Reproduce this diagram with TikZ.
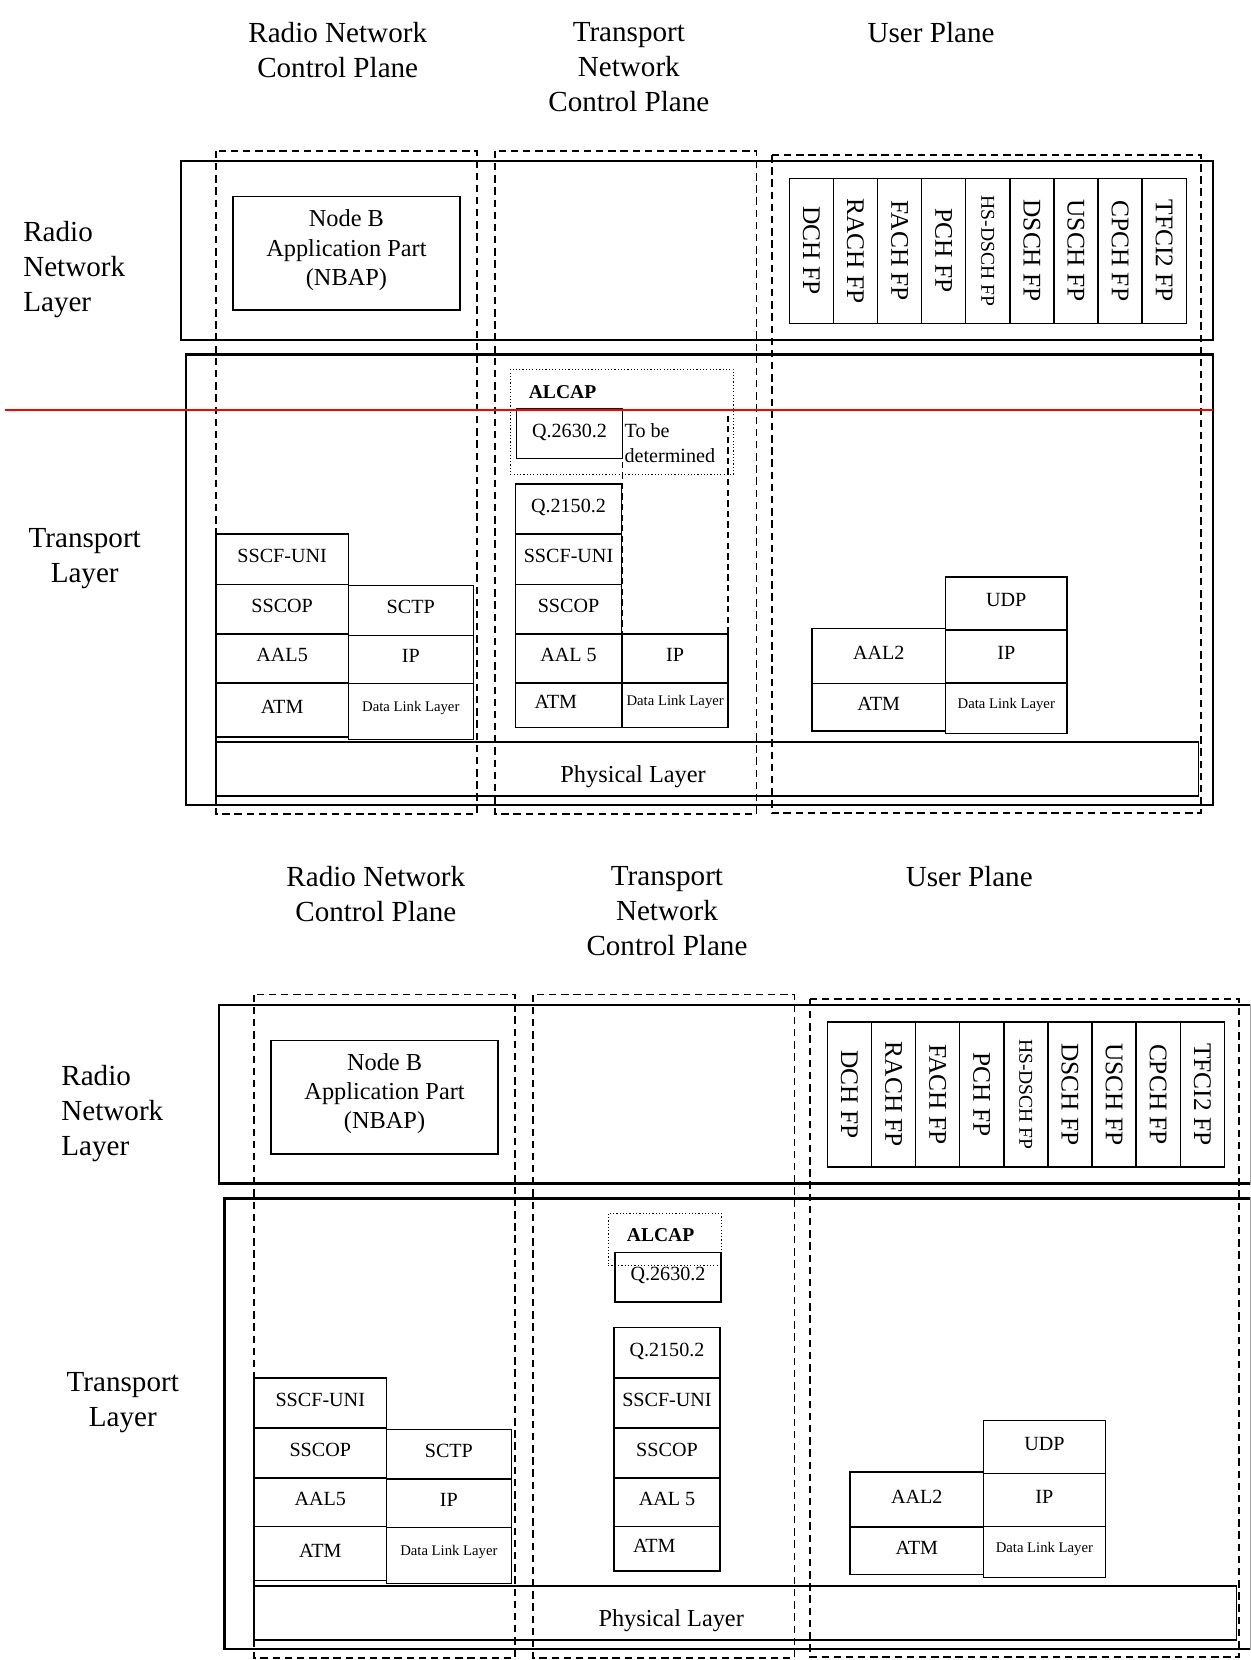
\documentclass[tikz,border=0pt]{standalone}
\usepackage{fontspec}
\setmainfont{Liberation Serif}
\usetikzlibrary{positioning}

\begin{document}
\begin{tikzpicture}[x=1pt, y=-1pt,
 every node/.style={inner sep=0pt, outer sep=0pt},
 heading/.style={align=center, font=\fontsize{27.5}{33}\selectfont},
 side/.style={font=\fontsize{27.5}{33}\selectfont},
 layerframe/.style={draw, line width=2.2pt},
 planeframe/.style={draw, line width=1.4pt, dash pattern=on 7pt off 4.5pt},
 blk/.style={draw, line width=1.3pt, text depth=6pt, font=\fontsize{19}{23}\selectfont},
 smallblk/.style={blk, text depth=9pt, font=\fontsize{13.9}{16}\selectfont},
 fpblk/.style={draw, line width=1.3pt, rotate=-90, minimum width=137, minimum height=41.67},
 alcapframe/.style={draw, line width=1.1pt, dotted},
 tbdframe/.style={draw, line width=1.4pt, dash pattern=on 6pt off 4pt},
 boldlbl/.style={font=\bfseries\fontsize{18.5}{22}\selectfont}]
 \useasboundingbox (0,0) rectangle (1181,1568);
 \fill[white] (0,0) rectangle (1181,1568);
 \clip (0,0) rectangle (1181,1568);

 % the same stack twice, the lower copy shifted
 \foreach \dx/\dy/\tg/\cx in {0/0/a/537, 36/797/b/594} {
 \begin{scope}[shift={(\dx,\dy)}]
  \node[heading] (rncp\tg) at (319,47.5) {Radio Network\\Control Plane};
  \node[heading] (tncp\tg) at (594,63.5) {Transport\\Network\\Control Plane};
  \node[heading] (up\tg) at (879.5,31) {User Plane};
  \node[side, align=left, anchor=west] (rnl\tg) at (22,255) {Radio\\Network\\Layer};
  \node[side, align=center] (tl\tg) at (80,528) {Transport\\Layer};

  \draw[layerframe] (171,152) rectangle (1146,321);
  \draw[layerframe] (176,335) rectangle (1146,760.5);

  % NBAP and frame protocols
  \node[blk, minimum width=214.5, minimum height=107, align=center, text depth=11pt,
   font=\fontsize{23}{27.5}\selectfont] (nbap\tg) at (327.25,239.4)
   {Node B\\Application Part\\(NBAP)};
  \foreach \fp/\fs [count=\i] in {DCH FP/24, RACH FP/24, FACH FP/24, PCH FP/24,
   HS-DSCH FP/18.5, DSCH FP/24, USCH FP/24, CPCH FP/24, TFCI2 FP/24}
   \node[fpblk, font=\fontsize{\fs}{\fs}\selectfont] (fp\i\tg)
    at ({745.5+41.67*(\i-0.5)},236.85) {\fp};

  % radio network control plane
  \node[blk, minimum width=125, minimum height=51, anchor=south west] (atm1\tg) at (204,696) {ATM};
  \node[blk, minimum width=125, minimum height=46, above=0pt of atm1\tg] (aal5\tg) {AAL5};
  \node[blk, minimum width=125, minimum height=47, above=0pt of aal5\tg] (sscop1\tg) {SSCOP};
  \node[blk, minimum width=125, minimum height=47.5, above=0pt of sscop1\tg] (sscf1\tg) {SSCF-UNI};
  \node[smallblk, minimum width=118, minimum height=53, anchor=south west] (dll1\tg) at (329,698.6) {Data Link Layer};
  \node[blk, minimum width=118, minimum height=45.6, above=0pt of dll1\tg] (ip1\tg) {IP};
  \node[blk, minimum width=118, minimum height=47, above=0pt of ip1\tg] (sctp\tg) {SCTP};

  % transport network control plane
  \node[blk, minimum width=100, minimum height=42, anchor=south] (atm2\tg) at (\cx,687) {\hspace*{-24pt}ATM};
  \node[blk, minimum width=100, minimum height=46, above=0pt of atm2\tg] (aal52\tg) {AAL 5};
  \node[blk, minimum width=100, minimum height=47, above=0pt of aal52\tg] (sscop2\tg) {SSCOP};
  \node[blk, minimum width=100, minimum height=47.5, above=0pt of sscop2\tg] (sscf2\tg) {SSCF-UNI};
  \node[blk, minimum width=100, minimum height=47.5, above=0pt of sscf2\tg] (q2150\tg) {Q.2150.2};
  \node[blk, minimum width=100, minimum height=47, anchor=north] (q2630\tg) at (\cx+1,386) {Q.2630.2};

  % user plane
  \node[blk, minimum width=126, minimum height=45, anchor=south west] (atm3\tg) at (767,690.5) {ATM};
  \node[blk, minimum width=126, minimum height=52, above=0pt of atm3\tg] (aal2\tg) {AAL2};
  \node[smallblk, minimum width=115, minimum height=48, anchor=south west] (dll3\tg) at (893,693) {Data Link Layer};
  \node[blk, minimum width=115, minimum height=50, above=0pt of dll3\tg] (ip3\tg) {IP};
  \node[blk, minimum width=115, minimum height=50, above=0pt of ip3\tg] (udp\tg) {UDP};

  \node[blk, minimum width=928, minimum height=51, anchor=north west] (phys\tg) at (204,701) {};
  \node[font=\fontsize{23}{27}\selectfont] (physlbl\tg) at (598,733.5) {Physical Layer};

  % planes
  \draw[planeframe] (204,142.5) rectangle (450.5,769);
  \draw[planeframe] (467.5,142.5) rectangle (714.5,769);
  \draw[planeframe] (729,146.5) rectangle (1134.5,768);
 \end{scope}
 }

 % upper copy: ALCAP and the part still open
 \node[alcapframe, minimum width=211, minimum height=99, anchor=north west] (alcapa) at (482,349) {};
 \node[boldlbl, anchor=west] (alcaplbla) at (499.5,370) {ALCAP};
 \node[tbdframe, minimum width=99.5, minimum height=212, anchor=north west] (tbd) at (588,387) {};
 \node[align=left, anchor=west, font=\fontsize{19}{23}\selectfont] (tbdlbl) at (590,418.5) {To be\\determined};
 \node[smallblk, minimum width=99.5, minimum height=42, anchor=south west] (dll2a) at (588,687) {Data Link Layer};
 \node[blk, minimum width=99.5, minimum height=46, above=0pt of dll2a] (ip2a) {IP};
 \draw[red, line width=1.6pt] (5,387) -- (1146,387);

 % lower copy: ALCAP
 \node[alcapframe, minimum width=107, minimum height=49, anchor=north west] (alcapb) at (574.5,1146) {};
 \node[boldlbl] (alcaplblb) at (624,1167) {ALCAP};
\end{tikzpicture}
\end{document}
